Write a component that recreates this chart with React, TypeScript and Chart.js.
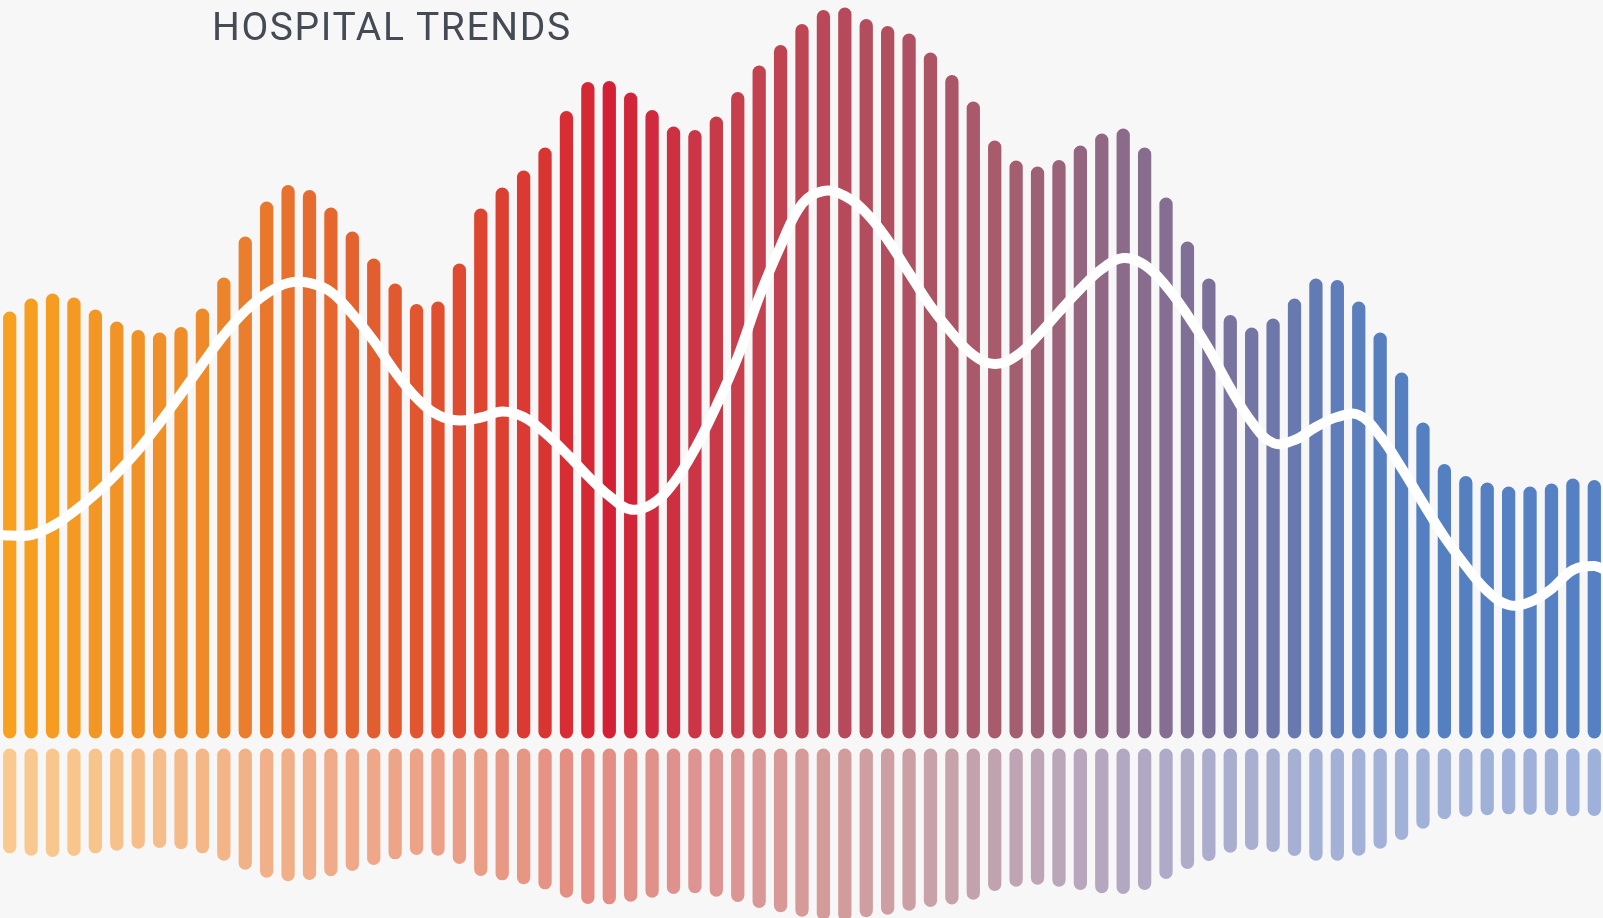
import { useEffect, useRef } from "react";
import { Chart, registerables } from "chart.js";

Chart.register(...registerables);

const TITLE = "HOSPITAL TRENDS";

// Upper bars (main series), one value per period
const ADMISSIONS = [
  85.4, 88.0, 89.0, 88.2, 85.8, 83.4, 81.7, 81.2, 82.3, 86.0,
  92.2, 100.4, 107.4, 110.7, 109.7, 106.2, 101.4, 96.0, 91.0, 86.9,
  87.4, 95.0, 106.0, 110.2, 113.6, 118.2, 125.5, 131.3, 131.5, 129.2,
  125.7, 122.4, 121.7, 124.4, 129.3, 134.6, 138.7, 142.9, 145.7, 146.2,
  143.9, 142.5, 141.0, 137.2, 132.7, 127.4, 119.6, 115.6, 114.4, 115.7,
  118.6, 121.0, 122.0, 118.2, 108.2, 99.4, 92.0, 84.7, 82.2, 84.0,
  88.0, 92.0, 91.7, 87.4, 81.2, 73.2, 63.2, 54.9, 52.5, 51.2,
  50.4, 50.4, 51.0, 52.0, 51.7,
];

// Lower mirrored bars (secondary series)
const DISCHARGES = [
  69.9, 71.5, 72.3, 71.7, 69.9, 68.1, 66.8, 66.3, 67.2, 69.9,
  74.8, 80.8, 86.1, 88.5, 87.7, 85.2, 81.7, 77.7, 73.9, 71.0,
  71.5, 77.0, 85.0, 87.9, 90.5, 93.9, 99.5, 103.7, 103.9, 102.1,
  99.5, 97.0, 96.5, 98.8, 102.3, 106.3, 109.2, 112.1, 114.3, 115.0,
  112.5, 110.8, 108.1, 105.7, 104.0, 100.8, 95.0, 92.1, 90.8, 92.1,
  94.3, 96.5, 97.0, 94.3, 87.0, 80.3, 75.0, 69.5, 67.7, 69.0,
  71.7, 74.8, 74.8, 71.5, 66.8, 61.0, 53.5, 47.2, 45.5, 44.5,
  43.9, 44.1, 44.5, 45.2, 45.0,
];

// White trend line, one value per period, plus its values at the two edges
const TREND = [
  40.6, 40.7, 42.5, 45.4, 48.9, 53.0, 57.7, 63.1, 68.9, 74.9,
  80.7, 85.5, 89.0, 91.1, 91.1, 89.3, 84.9, 79.5, 73.3, 68.1,
  64.7, 63.6, 64.2, 65.4, 64.3, 61.1, 57.0, 52.5, 48.5, 45.8,
  46.9, 51.1, 57.9, 66.5, 76.3, 88.3, 98.5, 106.9, 109.5, 108.5,
  105.1, 99.7, 93.1, 86.5, 81.1, 76.7, 74.9, 76.5, 80.5, 85.3,
  89.9, 93.9, 96.1, 94.7, 90.5, 84.7, 77.9, 70.1, 63.3, 59.1,
  59.7, 62.3, 64.3, 64.7, 60.5, 54.1, 47.1, 40.3, 34.5, 29.5,
  26.7, 27.3, 29.9, 33.7, 34.5,
];
const TREND_START = 40.7;
const TREND_END = 33.7;

// colour ramp along the periods (upper bars)
const COLOR_POS = [0, 9, 14, 20, 24, 28, 34, 40, 46, 52, 57, 62, 65, 74];
const COLOR_HEX = [
  "#F7A11F", "#EE8A2A", "#E66B2E", "#E0502F", "#DA3A31", "#D32035", "#C73F4D",
  "#B34C5D", "#A75B6B", "#8C6A89", "#78739F", "#5E7DBA", "#5480C2", "#5580C3",
];

// colour ramp for the lower, pale bars
const PALE_POS = [0, 4, 10, 16, 22, 27, 32, 37, 42, 47, 52, 57, 62, 74];
const PALE_HEX = [
  "#F9C98F", "#F7C58C", "#F3B487", "#EFA989", "#E99C86", "#E48C82", "#DE9490",
  "#D69A98", "#CBA0A5", "#BFA4B3", "#B3A8C2", "#AAAECE", "#A3B1D6", "#9EB1DA",
];

function hexToRgb(h: string) {
  const v = parseInt(h.slice(1), 16);
  return [(v >> 16) & 255, (v >> 8) & 255, v & 255];
}

function rampColor(pos: number[], hex: string[], i: number) {
  let k = 0;
  while (k < pos.length - 2 && i > pos[k + 1]) k++;
  const t = Math.min(1, Math.max(0, (i - pos[k]) / (pos[k + 1] - pos[k])));
  const c0 = hexToRgb(hex[k]);
  const c1 = hexToRgb(hex[k + 1]);
  const c = c0.map((v, j) => Math.round(v + (c1[j] - v) * t));
  return `rgb(${c[0]},${c[1]},${c[2]})`;
}

export default function App() {
  const ref = useRef<HTMLCanvasElement>(null);

  useEffect(() => {
    const n = ADMISSIONS.length;
    const upper = ADMISSIONS.map((y, i) => ({ x: i, y }));
    const lower = DISCHARGES.map((y, i) => ({ x: i, y }));
    const trend = [
      { x: -0.5, y: TREND_START },
      ...TREND.map((y, i) => ({ x: i, y })),
      { x: n - 0.5, y: TREND_END },
    ];
    const solid = ADMISSIONS.map((_, i) => rampColor(COLOR_POS, COLOR_HEX, i));
    const pale = DISCHARGES.map((_, i) => rampColor(PALE_POS, PALE_HEX, i));

    const chart = new Chart(ref.current as HTMLCanvasElement, {
      type: "bar",
      data: {
        datasets: [
          {
            type: "line",
            label: "Trend",
            data: trend,
            xAxisID: "x",
            yAxisID: "y",
            borderColor: "#ffffff",
            borderWidth: 10,
            borderCapStyle: "round",
            tension: 0.4,
            pointRadius: 0,
            fill: false,
            order: 0,
          } as any,
          {
            type: "bar",
            label: "Admissions",
            data: upper,
            xAxisID: "x",
            yAxisID: "y",
            backgroundColor: solid,
            borderWidth: 0,
            borderRadius: 10,
            borderSkipped: false,
            barPercentage: 0.62,
            categoryPercentage: 1,
            grouped: false,
            order: 1,
          } as any,
          {
            type: "bar",
            label: "Discharges",
            data: lower,
            xAxisID: "x",
            yAxisID: "y2",
            backgroundColor: pale,
            borderWidth: 0,
            borderRadius: 10,
            borderSkipped: false,
            barPercentage: 0.62,
            categoryPercentage: 1,
            grouped: false,
            order: 2,
          } as any,
        ],
      },
      options: {
        animation: false,
        responsive: false,
        maintainAspectRatio: false,
        layout: { padding: 0 },
        plugins: {
          legend: { display: false },
          tooltip: { enabled: false },
          title: { display: false },
        },
        scales: {
          x: { type: "linear", min: -0.5, max: n - 0.5, display: false, offset: false, bounds: "data" },
          y: { type: "linear", min: -35.9, max: 147.7, display: false, bounds: "data" },
          y2: { type: "linear", min: -499, max: 113, reverse: true, display: false, bounds: "data" },
        },
      } as any,
    });
    return () => chart.destroy();
  }, []);

  return (
    <div
      style={{
        position: "fixed",
        left: 0,
        top: 0,
        width: 1603,
        height: 918,
        overflow: "hidden",
        background: "#f7f7f7",
      }}
    >
      <canvas
        ref={ref}
        width={1606}
        height={918}
        style={{ position: "absolute", left: -1, top: 0, width: 1606, height: 918 }}
      />
      <div
        style={{
          position: "absolute",
          left: 212,
          top: 8,
          fontFamily: "Roboto, 'Liberation Sans', sans-serif",
          fontWeight: 400,
          fontSize: 39,
          lineHeight: 1,
          letterSpacing: "1.6px",
          color: "#444b55",
          whiteSpace: "nowrap",
        }}
      >
        {TITLE}
      </div>
    </div>
  );
}
